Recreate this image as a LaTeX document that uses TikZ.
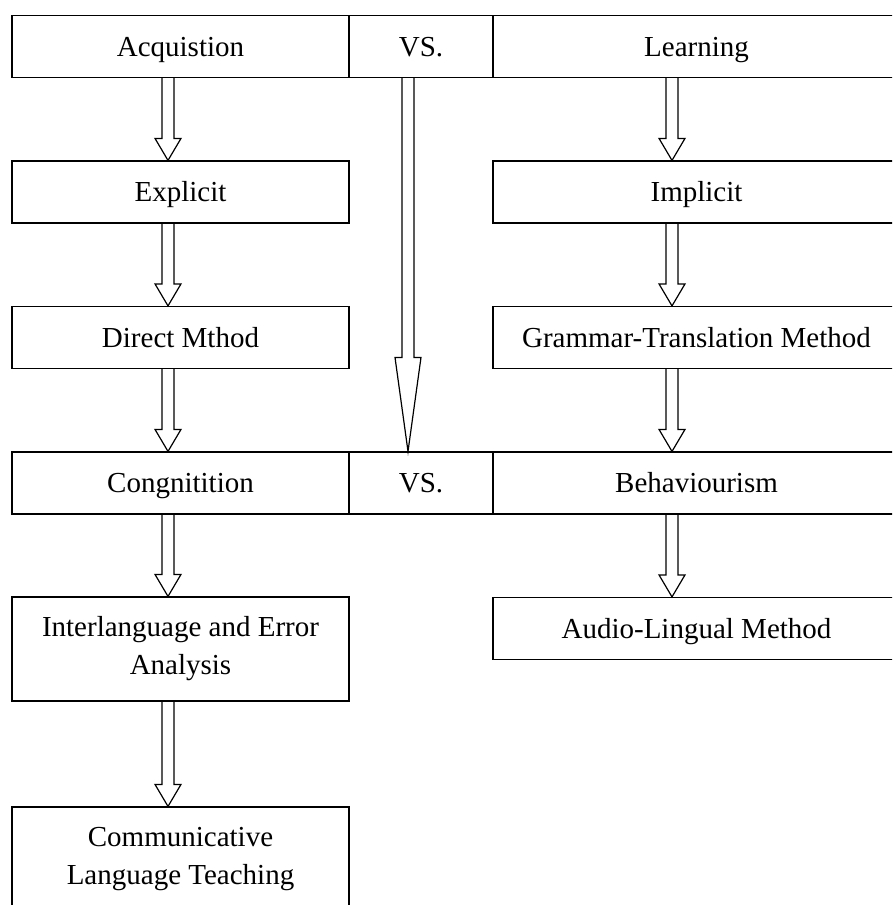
\documentclass[tikz,border=0pt]{standalone}
\usepackage{fontspec}
\setmainfont{Liberation Serif}
\usetikzlibrary{calc}

% hollow block arrow between two anchors, #1 = head length
\newcommand{\hollowarrow}[3][22pt]{%
  \draw[flow] let \p1=(#2), \p2=(#3) in
    (\x1-6pt,\y1) -- (\x1-6pt,\y2+#1) -- (\x1-13pt,\y2+#1) -- (\x2,\y2)
    -- (\x1+13pt,\y2+#1) -- (\x1+6pt,\y2+#1) -- (\x1+6pt,\y1);}

\begin{document}
\begin{tikzpicture}[x=1pt, y=-1pt,
  box/.style={draw, line width=1.2pt, inner sep=0pt, minimum width=337pt,
    align=center, font=\fontsize{29}{38}\selectfont},
  cell/.style={box, minimum height=62pt, text height=19.5pt, text depth=0pt},
  vsbox/.style={cell, minimum width=144pt},
  rightcell/.style={cell, minimum width=407pt},
  tall/.style={box, minimum height=104pt},
  flow/.style={line width=1.2pt, line join=miter},
]
  \clip (0,0) rectangle (892,905);

  \coordinate (colL) at (168,0);
  \coordinate (colM) at (408,0);
  \coordinate (colR) at (672,0);

  \node[cell] (acq) at (180.5,46.5) {Acquistion};
  \node[vsbox] (vsA) at (421,46.5) {VS.};
  \node[rightcell] (learn) at (696.5,46.5) {Learning};

  \node[cell] (expl) at (180.5,192) {Explicit};
  \node[rightcell] (impl) at (696.5,192) {Implicit};

  \node[cell] (direct) at (180.5,337.5) {Direct Mthod};
  \node[rightcell] (gram) at (696.5,337.5) {Grammar-Translation Method};

  \node[cell] (cong) at (180.5,483) {Congnitition};
  \node[vsbox] (vsB) at (421,483) {VS.};
  \node[rightcell] (behav) at (696.5,483) {Behaviourism};

  \node[tall] (inter) at (180.5,649) {Interlanguage and Error\\Analysis};
  \node[rightcell] (audio) at (696.5,628.5) {Audio-Lingual Method};

  \node[tall] (comm) at (180.5,859) {Communicative\\Language Teaching};

  \hollowarrow{acq.south -| colL}{expl.north -| colL}
  \hollowarrow{expl.south -| colL}{direct.north -| colL}
  \hollowarrow{direct.south -| colL}{cong.north -| colL}
  \hollowarrow{cong.south -| colL}{inter.north -| colL}
  \hollowarrow{inter.south -| colL}{comm.north -| colL}

  \hollowarrow{learn.south -| colR}{impl.north -| colR}
  \hollowarrow{impl.south -| colR}{gram.north -| colR}
  \hollowarrow{gram.south -| colR}{behav.north -| colR}
  \hollowarrow{behav.south -| colR}{audio.north -| colR}

  \hollowarrow[94pt]{vsA.south -| colM}{vsB.north -| colM}
\end{tikzpicture}
\end{document}
